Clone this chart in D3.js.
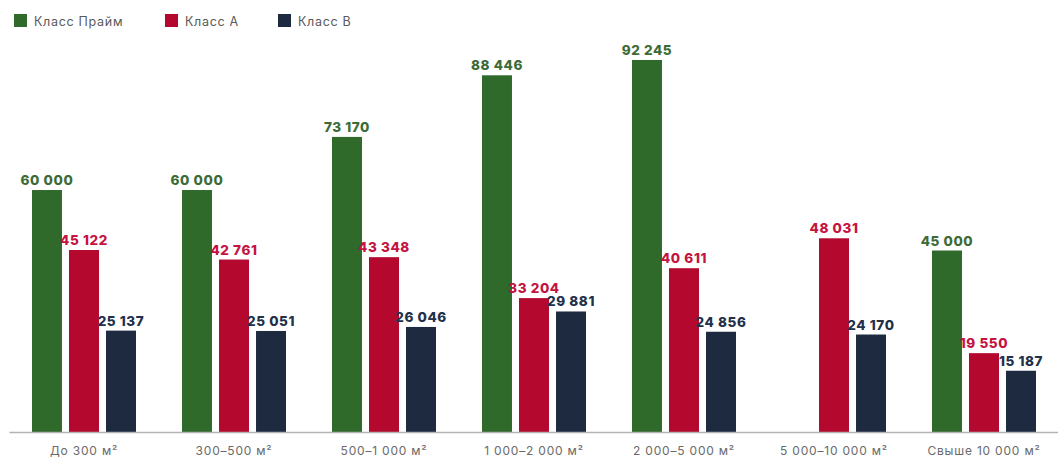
<!DOCTYPE html>
<html>
<head>
<meta charset="utf-8">
<script src="https://cdn.jsdelivr.net/npm/d3@7"></script>
<style>
  body { margin: 0; background: #fff; }
  .x.axis text { font-family: Inter, "Open Sans", sans-serif; font-size: 12px; fill: #6a6a6a; letter-spacing: 0.8px; }
  .x.axis path { stroke: #b4b4b4; stroke-width: 1.5; }
  .val { font-family: Inter, "Open Sans", sans-serif; font-size: 13.5px; font-weight: 800; letter-spacing: 0.6px; }
  .legend text { font-family: Inter, "Open Sans", sans-serif; font-size: 12.5px; fill: #5a5a5a; letter-spacing: 0.7px; }
</style>
</head>
<body>
<div id="chart"></div>
<script>
var categories = ['До 300 м²', '300–500 м²', '500–1 000 м²', '1 000–2 000 м²',
                  '2 000–5 000 м²', '5 000–10 000 м²', 'Свыше 10 000 м²'];
var seriesNames = ['Класс Прайм', 'Класс А', 'Класс  В'];
var prime  = [60000, 60000, 73170, 88446, 92245, null, 45000];
var classA = [45122, 42761, 43348, 33204, 40611, 48031, 19550];
var classB = [25137, 25051, 26046, 29881, 24856, 24170, 15187];
var barColors   = ['#2f6a2b', '#b4082e', '#1d2a40'];
var labelColors = ['#3d6b37', '#c4143f', '#22304a'];

var width = 1058, height = 457;
var baseY = 432;

var svg = d3.select("#chart")
  .append("svg")
  .attr("width", width)
  .attr("height", height);

var xScale = d3.scaleBand()
  .domain(categories)
  .range([9, 1059]);
var inner = d3.scaleBand()
  .domain([0, 1, 2])
  .range([23, 127])
  .paddingInner(0.19);
var yScale = d3.scaleLinear()
  .domain([0, 100000])
  .range([baseY, baseY - 403.3]);

var rows = [prime, classA, classB];
var fmt = function(v) { return d3.format(",")(v).replace(/,/g, " "); };

rows.forEach(function(vals, s) {
  var data = categories.map(function(c, i) { return { cat: c, v: vals[i] }; })
    .filter(function(d) { return d.v != null; });
  var g = svg.append("g");
  g.selectAll("rect")
    .data(data)
    .enter()
    .append("rect")
    .attr("x", function(d) { return xScale(d.cat) + inner(s); })
    .attr("y", function(d) { return yScale(d.v); })
    .attr("width", inner.bandwidth())
    .attr("height", function(d) { return baseY - yScale(d.v); })
    .attr("fill", barColors[s]);
  g.selectAll("text")
    .data(data)
    .enter()
    .append("text")
    .attr("class", "val")
    .attr("x", function(d) { return xScale(d.cat) + inner(s) + inner.bandwidth() / 2; })
    .attr("y", function(d) { return yScale(d.v) - 5; })
    .attr("text-anchor", "middle")
    .attr("fill", labelColors[s])
    .text(function(d) { return fmt(d.v); });
});

var xAxis = d3.axisBottom(xScale)
  .tickSize(0)
  .tickSizeOuter(0)
  .tickPadding(14);
svg.append("g")
  .attr("class", "x axis")
  .attr("transform", "translate(0," + baseY + ")")
  .call(xAxis);

// legend
var legX = [14, 165, 278];
var legend = svg.append("g").attr("class", "legend");
seriesNames.forEach(function(name, i) {
  legend.append("rect")
    .attr("x", legX[i]).attr("y", 14)
    .attr("width", 13).attr("height", 13)
    .attr("fill", barColors[i]);
  legend.append("text")
    .attr("x", legX[i] + 20).attr("y", 26)
    .text(name);
});
</script>
</body>
</html>
